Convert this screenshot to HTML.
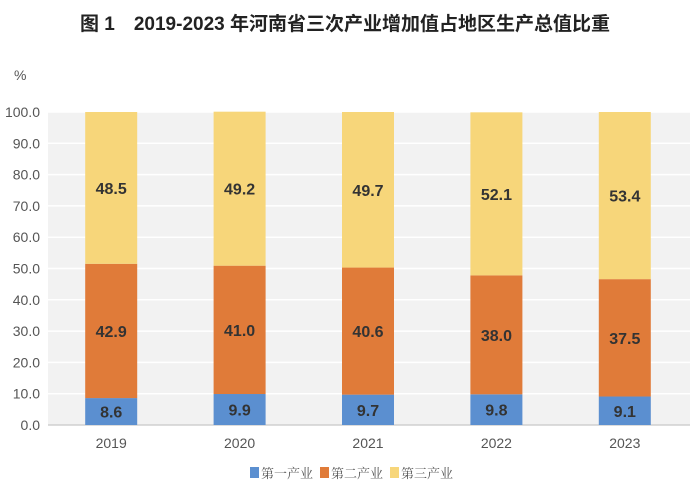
<!DOCTYPE html>
<html><head><meta charset="utf-8"><style>
body{margin:0;background:#fff;}
svg{display:block;font-family:"Liberation Sans","Noto Sans CJK SC",sans-serif;}
</style></head><body>
<svg width="700" height="487" viewBox="0 0 700 487" id="chart">
<text x="345" y="30" text-anchor="middle" font-size="19" font-weight="600" fill="#222">图 1　2019-2023 年河南省三次产业增加值占地区生产总值比重</text>
<text x="14" y="80" font-size="14" fill="#555">%</text>
<rect x="48" y="112" width="642" height="313" fill="#f2f2f2"/>
<g id="grid"></g><g id="bars"></g><g id="labels"></g>
<g>
<rect x="250" y="467" width="9" height="11" fill="#5b8fd0"/>
<text x="261" y="478" font-size="13" fill="#555" font-family="'Noto Serif CJK SC',serif">第一产业</text>
<rect x="320" y="467" width="9" height="11" fill="#e07b39"/>
<text x="331" y="478" font-size="13" fill="#555" font-family="'Noto Serif CJK SC',serif">第二产业</text>
<rect x="390" y="467" width="9" height="11" fill="#f7d67a"/>
<text x="401" y="478" font-size="13" fill="#555" font-family="'Noto Serif CJK SC',serif">第三产业</text>
</g>
</svg>
<script>
const categories=["2019","2020","2021","2022","2023"];
const primary=[8.6,9.9,9.7,9.8,9.1];
const secondary=[42.9,41.0,40.6,38.0,37.5];
const tertiary=[48.5,49.2,49.7,52.1,53.4];
const yTicks=[0,10,20,30,40,50,60,70,80,90,100];
const NS="http://www.w3.org/2000/svg";
const y0=425,y1=112,x0=48,x1=690;
const y=v=>y0-(v/100)*(y0-y1);
const band=(x1-x0)/categories.length;
const xc=i=>x0+band*(i+0.5)-1;
const bw=52;
function mk(t,a,p){const e=document.createElementNS(NS,t);for(const k in a)e.setAttribute(k,a[k]);p.appendChild(e);return e;}
const g=document.getElementById('grid'),b=document.getElementById('bars'),l=document.getElementById('labels');
yTicks.forEach(v=>{
 const ln=mk('line',{x1:x0,x2:x1,y1:y(v),y2:y(v),stroke:v===0?'#d0d0d0':'#ffffff','stroke-width':1.5},g);
 
 
 const t=mk('text',{x:40,y:y(v)+5,'text-anchor':'end','font-size':14,fill:'#555'},g);
 t.textContent=v.toFixed(1);
 
 
});
const series=[[primary,'#5b8fd0','primary'],[secondary,'#e07b39','secondary'],[tertiary,'#f7d67a','tertiary']];
categories.forEach((c,i)=>{
 let base=0;
 series.forEach(([arr,col,nm])=>{
  const v=arr[i],top=base+v;
  const r=mk('rect',{x:xc(i)-bw/2,y:y(top),width:bw,height:y(base)-y(top),fill:col},b);
  
  
  const t=mk('text',{x:xc(i),y:(y(base)+y(top))/2+6,'text-anchor':'middle','font-size':16,'font-weight':'bold',fill:'#333'},l);
  t.textContent=v.toFixed(1);
  
  
  base=top;
 });
 const t=mk('text',{x:xc(i),y:448,'text-anchor':'middle','font-size':14,fill:'#555'},l);
 t.textContent=c;
 
 
});
</script>
</body></html>
